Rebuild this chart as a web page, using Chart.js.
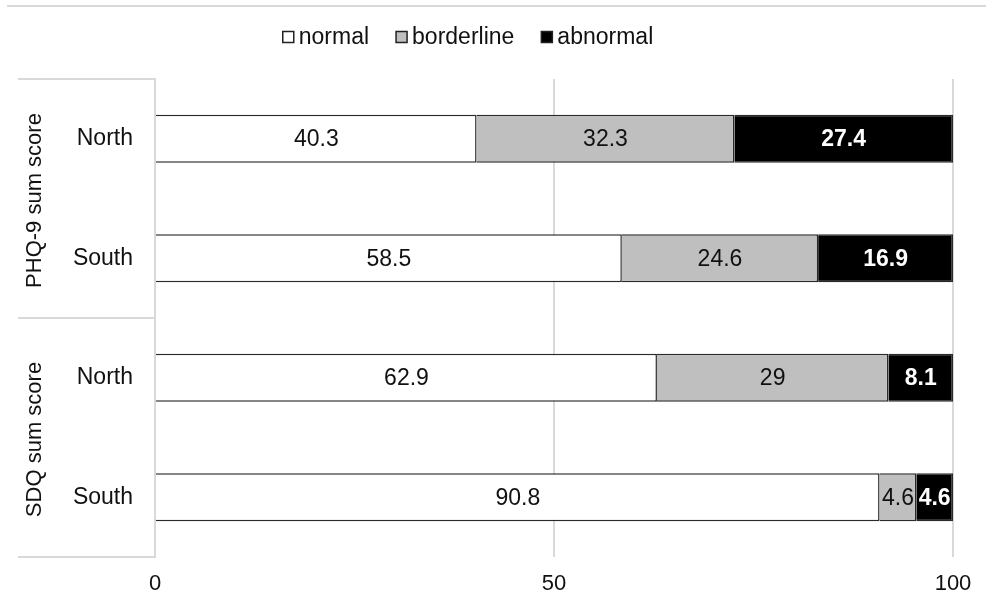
<!DOCTYPE html>
<html>
<head>
<meta charset="utf-8">
<script src="https://cdn.jsdelivr.net/npm/chart.js@4/dist/chart.umd.min.js"></script>
<style>
    html, body { margin: 0; padding: 0; background: #fff; }
    #wrap { width: 986px; height: 601px; position: relative; }
</style>
</head>
<body>
<div id="wrap"><canvas id="chart"></canvas></div>
<script>
const categories = ['North', 'South', 'North', 'South'];
const groups = ['PHQ-9 sum score', 'SDQ sum score'];
const normalValues = [40.3, 58.5, 62.9, 90.8];
const borderlineValues = [32.3, 24.6, 29, 4.6];
const abnormalValues = [27.4, 16.9, 8.1, 4.6];
const xTicks = [0, 50, 100];

const fontFamily = "'Liberation Sans', Arial, sans-serif";
const lineGray = '#d9d9d9';

// Legend, group labels, separators and value labels
const decorPlugin = {
    id: 'decor',
    beforeDraw(chart) {
        const ctx = chart.ctx;
        ctx.save();
        ctx.strokeStyle = lineGray;
        ctx.lineWidth = 2;
        ctx.beginPath();
        ctx.moveTo(7, 6);
        ctx.lineTo(986, 6);
        ctx.stroke();
        ctx.restore();
    },
    afterDraw(chart) {
        const ctx = chart.ctx;
        const yScale = chart.scales.y;
        const area = chart.chartArea;

        // separators between category groups
        ctx.save();
        ctx.strokeStyle = lineGray;
        ctx.lineWidth = 2;
        [-0.5, 1.5, 3.5].forEach(v => {
            const py = Math.round(yScale.getPixelForValue(v));
            ctx.beginPath();
            ctx.moveTo(18, py);
            ctx.lineTo(area.left, py);
            ctx.stroke();
        });

        // rotated group labels
        ctx.fillStyle = '#111';
        ctx.font = '22px ' + fontFamily;
        ctx.textAlign = 'center';
        ctx.textBaseline = 'middle';
        groups.forEach((g, i) => {
            const cy = (yScale.getPixelForValue(i * 2 - 0.5) + yScale.getPixelForValue(i * 2 + 1.5)) / 2;
            ctx.save();
            ctx.translate(35, cy + 2);
            ctx.rotate(-Math.PI / 2);
            ctx.fillText(g, 0, 0);
            ctx.restore();
        });

        // legend
        ctx.font = '23px ' + fontFamily;
        ctx.textAlign = 'left';
        const items = chart.data.datasets;
        const boxSize = 11, boxGap = 5, itemGap = 27;
        let total = 0;
        items.forEach((d, i) => {
            total += boxSize + boxGap + ctx.measureText(d.label).width + (i < items.length - 1 ? itemGap : 0);
        });
        let lx = 468 - total / 2;
        const ly = 37;
        items.forEach(d => {
            ctx.fillStyle = d.backgroundColor;
            ctx.fillRect(lx, ly - 5.5, boxSize, boxSize);
            ctx.strokeStyle = '#222';
            ctx.lineWidth = 1.5;
            ctx.strokeRect(lx, ly - 5.5, boxSize, boxSize);
            lx += boxSize + boxGap;
            ctx.fillStyle = '#111';
            ctx.fillText(d.label, lx, ly + 1);
            lx += ctx.measureText(d.label).width + itemGap;
        });

        // value labels inside bars
        items.forEach((d, di) => {
            const meta = chart.getDatasetMeta(di);
            ctx.fillStyle = d.labelColor;
            ctx.font = (d.labelBold ? 'bold ' : '') + '23px ' + fontFamily;
            ctx.textAlign = 'center';
            meta.data.forEach((bar, j) => {
                const c = bar.getCenterPoint();
                ctx.fillText(String(d.data[j]), c.x, c.y + 1);
            });
        });
        ctx.restore();
    }
};

const ctx = document.getElementById('chart').getContext('2d');
new Chart(ctx, {
    type: 'bar',
    data: {
        labels: categories,
        datasets: [
            { label: 'normal', data: normalValues, backgroundColor: '#ffffff', labelColor: '#111', labelBold: false },
            { label: 'borderline', data: borderlineValues, backgroundColor: '#bfbfbf', labelColor: '#111', labelBold: false },
            { label: 'abnormal', data: abnormalValues, backgroundColor: '#000000', labelColor: '#ffffff', labelBold: true }
        ]
    },
    options: {
        indexAxis: 'y',
        responsive: true,
        maintainAspectRatio: false,
        animation: false,
        datasets: {
            bar: {
                borderColor: '#2a2a2a',
                borderWidth: 1.5,
                categoryPercentage: 1,
                barPercentage: 0.4
            }
        },
        layout: { padding: { top: 79, right: 33, bottom: 0, left: 0 } },
        plugins: {
            legend: { display: false },
            tooltip: { enabled: false }
        },
        scales: {
            x: {
                stacked: true,
                min: 0,
                max: 100,
                afterBuildTicks(scale) {
                    scale.ticks = xTicks.map(v => ({ value: v }));
                },
                afterFit(scale) { scale.height = 44; },
                grid: { color: lineGray, lineWidth: 2, drawTicks: false },
                border: { display: false },
                ticks: {
                    color: '#111',
                    padding: 14,
                    font: { family: fontFamily, size: 22 }
                }
            },
            y: {
                stacked: true,
                afterFit(scale) { scale.width = 155; },
                grid: { display: false, drawTicks: false },
                border: { display: true, color: lineGray, width: 2 },
                ticks: {
                    color: '#111',
                    padding: 22,
                    font: { family: fontFamily, size: 23 }
                }
            }
        }
    },
    plugins: [decorPlugin]
});
</script>
</body>
</html>
